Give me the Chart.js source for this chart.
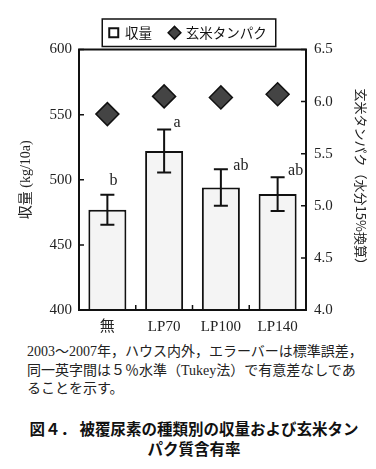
<!DOCTYPE html>
<html><head><meta charset="utf-8">
<script src="https://cdn.jsdelivr.net/npm/chart.js@4.4.0/dist/chart.umd.min.js"></script>
<style>
html,body{margin:0;padding:0;background:#fff;}
#wrap{position:relative;width:376px;height:469px;overflow:hidden;background:#fff;}
canvas{position:absolute;left:0;top:0;}
.cap{position:absolute;left:27px;top:343px;font-family:"Liberation Serif","Noto Sans CJK JP",serif;font-size:14px;line-height:18.5px;color:#222;white-space:nowrap;}
.ttl{position:absolute;left:0;width:388px;top:418px;text-align:center;font-family:"Noto Sans CJK JP",sans-serif;font-weight:bold;font-size:15.5px;line-height:20px;color:#111;white-space:nowrap;}
</style></head>
<body><div id="wrap"><canvas id="c" width="376" height="340"></canvas>
<div class="cap">2003〜2007年，ハウス内外，エラーバーは標準誤差，<br>同一英字間は５％水準（Tukey法）で有意差なしであ<br>ることを示す。</div>
<div class="ttl">図４．&nbsp;被覆尿素の種類別の収量および玄米タン<br>パク質含有率</div>
</div>
<script>
const categories = ['無','LP70','LP100','LP140'];
const yieldValues = [477, 522, 494, 489];
const yieldErrors = [11.5, 16.5, 14, 13];
const sigLetters = ['b','a','ab','ab'];
const proteinValues = [5.88, 6.05, 6.04, 6.07];
const yieldTicks = [400, 450, 500, 550, 600];
const proteinTicks = [4.0, 4.5, 5.0, 5.5, 6.0, 6.5];

const SERIF = '"Liberation Serif", "Noto Sans CJK JP", serif';
const CJK = '"Noto Sans CJK JP", sans-serif';

const decor = {
  id: 'decor',
  afterDatasetsDraw(chart, args, opts) {
    const {ctx, scales} = chart;
    const x = scales.x, y = scales.y;
    ctx.save();
    ctx.strokeStyle = '#111';
    ctx.lineWidth = 2;
    ctx.fillStyle = '#222';
    ctx.font = '16px ' + SERIF;
    ctx.textAlign = 'center';
    ctx.textBaseline = 'middle';
    yieldValues.forEach((v, i) => {
      const cx = x.getPixelForValue(i);
      const t = y.getPixelForValue(v + yieldErrors[i]);
      const b = y.getPixelForValue(v - yieldErrors[i]);
      ctx.beginPath();
      ctx.moveTo(cx, t); ctx.lineTo(cx, b);
      ctx.moveTo(cx - 7, t); ctx.lineTo(cx + 7, t);
      ctx.moveTo(cx - 7, b); ctx.lineTo(cx + 7, b);
      ctx.stroke();
      ctx.fillText(sigLetters[i], cx + opts.dx[i], t + opts.dy[i]);
    });
    ctx.restore();
  },
  afterDraw(chart) {
    const {ctx, chartArea: a, scales} = chart;
    ctx.save();
    ctx.strokeStyle = '#111';
    ctx.lineWidth = 2;
    ctx.strokeRect(a.left, a.top, a.right - a.left, a.bottom - a.top);
    ctx.lineWidth = 1.5;
    ctx.beginPath();
    scales.y.ticks.forEach(t => {
      const py = scales.y.getPixelForValue(t.value);
      ctx.moveTo(a.left, py); ctx.lineTo(a.left + 5, py);
    });
    scales.y2.ticks.forEach(t => {
      const py = scales.y2.getPixelForValue(t.value);
      ctx.moveTo(a.right, py); ctx.lineTo(a.right - 5, py);
    });
    for (let i = 0; i < categories.length - 1; i++) {
      const px = (scales.x.getPixelForValue(i) + scales.x.getPixelForValue(i + 1)) / 2;
      ctx.moveTo(px, a.bottom); ctx.lineTo(px, a.bottom - 5);
    }
    ctx.stroke();
    const lg = chart.legend;
    if (lg && lg.legendHitBoxes && lg.legendHitBoxes.length) {
      const hb = lg.legendHitBoxes;
      let l = Infinity, r = -Infinity, tp = Infinity, bt = -Infinity;
      hb.forEach(h => { l = Math.min(l, h.left); r = Math.max(r, h.left + h.width); tp = Math.min(tp, h.top); bt = Math.max(bt, h.top + h.height); });
      ctx.lineWidth = 1.5;
      ctx.strokeRect(l - 7, tp - 7, r - l + 16, bt - tp + 14);
    }
    ctx.restore();
  }
};

new Chart(document.getElementById('c'), {
  data: {
    labels: categories,
    datasets: [
      {
        type: 'bar',
        label: '収量',
        data: yieldValues,
        yAxisID: 'y',
        backgroundColor: '#f4f4f4',
        borderColor: '#111',
        borderWidth: 2,
        barPercentage: 0.67,
        categoryPercentage: 1,
        pointStyle: 'rect',
        order: 2
      },
      {
        type: 'line',
        label: '玄米タンパク',
        data: proteinValues,
        yAxisID: 'y2',
        showLine: false,
        pointStyle: 'rectRot',
        pointRadius: 11.5,
        pointHoverRadius: 11.5,
        backgroundColor: '#444',
        borderColor: '#111',
        borderWidth: 1.5,
        order: 1
      }
    ]
  },
  options: {
    responsive: false,
    animation: false,
    layout: { padding: { top: 8, left: 0, right: 0, bottom: 0 } },
    plugins: {
      tooltip: { enabled: false },
      decor: { dx: [6, 13, 20, 18], dy: [-14, -7, -4, -6] },
      legend: {
        display: true,
        position: 'top',
        labels: {
          usePointStyle: true,
          boxWidth: 9,
          boxHeight: 9,
          padding: 18,
          color: '#111',
          font: { size: 13.5, family: CJK },
          sort: (a, b) => a.datasetIndex - b.datasetIndex,
          generateLabels(chart) {
            const items = Chart.defaults.plugins.legend.labels.generateLabels(chart);
            items.forEach(it => {
              it.strokeStyle = '#111';
              if (it.datasetIndex === 0) { it.fillStyle = '#fff'; it.lineWidth = 2; }
              else { it.fillStyle = '#444'; it.lineWidth = 1.5; }
            });
            return items;
          }
        }
      }
    },
    scales: {
      x: {
        type: 'category',
        grid: { display: false, drawTicks: false },
        border: { display: false },
        ticks: { color: '#222', padding: 8, font: { size: 15, family: SERIF } },
        afterFit(s) { s.height = 30; }
      },
      y: {
        position: 'left',
        min: 400, max: 600,
        afterBuildTicks(s) { s.ticks = yieldTicks.map(v => ({ value: v })); },
        grid: { display: false, drawTicks: false },
        border: { display: false },
        ticks: { color: '#222', padding: 7, font: { size: 15, family: SERIF } },
        title: { display: true, text: '収量 (kg/10a)', color: '#222', font: { size: 14, family: SERIF }, padding: { top: 18, bottom: 0 } },
        afterFit(s) { s.width = 79; }
      },
      y2: {
        position: 'right',
        min: 4.0, max: 6.5,
        afterBuildTicks(s) { s.ticks = proteinTicks.map(v => ({ value: v })); },
        grid: { display: false, drawTicks: false },
        border: { display: false },
        ticks: { color: '#222', padding: 8, font: { size: 15, family: SERIF }, callback: v => Number(v).toFixed(1) },
        title: { display: true, text: '玄米タンパク（水分15%換算）', color: '#222', font: { size: 13, family: CJK }, padding: { top: 7, bottom: 0 } },
        afterFit(s) { s.width = 70; }
      }
    }
  },
  plugins: [decor]
});
</script>
</body></html>
